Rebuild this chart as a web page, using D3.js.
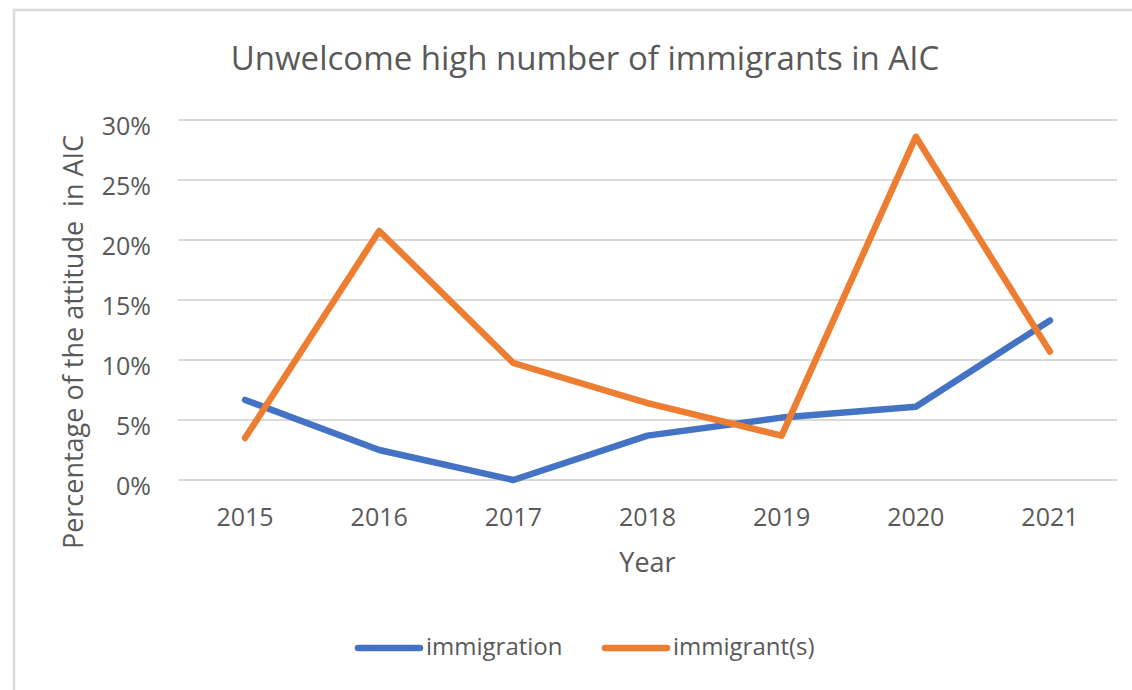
<!DOCTYPE html>
<html>
<head>
<meta charset="utf-8">
<script src="https://cdn.jsdelivr.net/npm/d3@7"></script>
<style>
  html, body { margin: 0; padding: 0; background: #fff; }
  svg { display: block; font-family: "Open Sans", "Liberation Sans", sans-serif; }
</style>
</head>
<body>
<svg id="chart" width="1132" height="690"></svg>
<script>
// Years and percentage shares per series
const years = ["2015", "2016", "2017", "2018", "2019", "2020", "2021"];
const immigration = [6.67, 2.5, 0, 3.7, 5.2, 6.1, 13.3];
const immigrants = [3.5, 20.75, 9.75, 6.4, 3.7, 28.6, 10.7];
const yTicks = [0, 5, 10, 15, 20, 25, 30];
const seriesNames = ["immigration", "immigrant(s)"];
const seriesColors = ["#4472C4", "#ED7D31"];

const svg = d3.select("#chart");
const textColor = "#595959";
const font = "'Open Sans', sans-serif";

// Chart frame (only top and left edges fall inside the view)
svg.append("rect")
  .attr("x", 14).attr("y", 10)
  .attr("width", 1140).attr("height", 700)
  .attr("fill", "#fff")
  .attr("stroke", "#d9d9d9").attr("stroke-width", 2.5);

const plot = { left: 178, right: 1117, top: 120, bottom: 480 };

const x = d3.scaleBand().domain(years).range([plot.left, plot.right]);
const y = d3.scaleLinear().domain([0, 30]).range([plot.bottom, plot.top]);

// Horizontal gridlines
svg.append("g")
  .selectAll("line")
  .data(yTicks)
  .join("line")
  .attr("x1", plot.left).attr("x2", plot.right)
  .attr("y1", d => y(d)).attr("y2", d => y(d))
  .attr("stroke", "#d9d9d9").attr("stroke-width", 2);

// Y axis labels
const yAxis = d3.axisLeft(y).tickValues(yTicks).tickFormat(d => d + "%").tickSize(0).tickPadding(27);
const gy = svg.append("g").attr("transform", `translate(${plot.left},0)`).call(yAxis);
gy.select(".domain").remove();
gy.selectAll("text")
  .attr("fill", textColor)
  .attr("dy", "0.56em")
  .style("font-size", "25px")
  .style("font-family", font);

// X axis labels
const xAxis = d3.axisBottom(x).tickSize(0).tickPadding(0);
const gx = svg.append("g").attr("transform", `translate(0,${plot.bottom})`).call(xAxis);
gx.select(".domain").remove();
gx.selectAll("text")
  .attr("fill", textColor)
  .attr("y", 46).attr("dy", 0)
  .style("font-size", "25px")
  .style("font-family", font);

// Series lines
const line = d3.line()
  .x((d, i) => x(years[i]) + x.bandwidth() / 2)
  .y(d => y(d));

[immigration, immigrants].forEach((vals, k) => {
  svg.append("path")
    .datum(vals)
    .attr("d", line)
    .attr("fill", "none")
    .attr("stroke", seriesColors[k])
    .attr("stroke-width", 6.5)
    .attr("stroke-linejoin", "round")
    .attr("stroke-linecap", "round");
});

// Title
svg.append("text")
  .attr("x", 585).attr("y", 70)
  .attr("text-anchor", "middle")
  .attr("fill", textColor)
  .style("font-size", "33px")
  .text("Unwelcome high number of immigrants in AIC");

// Axis titles
svg.append("text")
  .attr("x", (plot.left + plot.right) / 2).attr("y", 572)
  .attr("text-anchor", "middle")
  .attr("fill", textColor)
  .style("font-size", "27px")
  .text("Year");

svg.append("text")
  .attr("transform", `translate(83,342) rotate(-90)`)
  .attr("text-anchor", "middle")
  .attr("fill", textColor)
  .style("font-size", "27px")
  .style("white-space", "pre")
  .attr("xml:space", "preserve")
  .text("Percentage of the attitude  in AIC");

// Legend
const legendX = [355, 602];
const legend = svg.append("g");
seriesNames.forEach((name, k) => {
  legend.append("line")
    .attr("x1", legendX[k] + 3).attr("x2", legendX[k] + 65)
    .attr("y1", 648).attr("y2", 648)
    .attr("stroke", seriesColors[k]).attr("stroke-width", 6.5)
    .attr("stroke-linecap", "round");
  legend.append("text")
    .attr("x", legendX[k] + 71).attr("y", 655)
    .attr("fill", textColor)
    .style("font-size", "24px")
    .text(name);
});
</script>
</body>
</html>
